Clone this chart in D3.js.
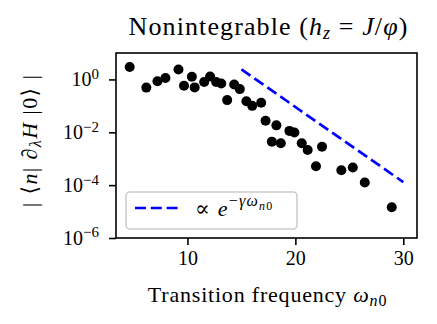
<!DOCTYPE html>
<html>
<head>
<meta charset="utf-8">
<script src="https://cdn.jsdelivr.net/npm/d3@7"></script>
<style>
  body { margin: 0; background: #fff; }
  svg text { font-family: "Liberation Serif", "DejaVu Serif", serif; fill: #000; }
</style>
</head>
<body>
<div id="chart"></div>
<script>
// transition frequency of each eigenstate pair
var omega = [4.65, 6.19, 7.22, 7.96, 9.17, 9.68, 10.41, 10.67, 11.55, 12.10, 12.66, 13.13,
             13.68, 14.33, 14.85, 15.46, 16.0, 16.83, 17.24, 18.24, 17.82, 18.65, 19.45, 19.91,
             20.59, 21.14, 22.47, 21.91, 24.26, 25.32, 26.43, 28.93];
// |<n| dH |0>| matrix elements
var element = [2.95, 0.49, 0.85, 1.14, 2.37, 0.58, 1.27, 0.50, 0.80, 1.30, 0.80, 0.70,
               0.165, 0.64, 0.43, 0.149, 0.100, 0.132, 0.0272, 0.0183, 0.00442, 0.00384, 0.0113, 0.00975,
               0.00384, 0.00213, 0.00285, 0.000522, 0.000367, 0.000466, 0.000125, 1.46e-5];
// exponential envelope endpoints (straight on a log axis)
var fitX = [15, 30];
var fitY = [2.4, 1.3e-4];

var xTicks = [10, 20, 30];
var yTicks = [1e0, 1e-2, 1e-4, 1e-6];

var W = 437, H = 324;
var pLeft = 116, pRight = 417, pTop = 53, pBottom = 238;

var svg = d3.select("#chart").append("svg")
  .attr("width", W)
  .attr("height", H);

var x = d3.scaleLinear().domain([3.38, 31.27]).range([pLeft, pRight]);
var y = d3.scaleLog().domain([1e-6, 1e1]).range([pBottom, pTop]);

// points
svg.selectAll("circle.pt")
  .data(omega.map(function(d, i) { return [d, element[i]]; }))
  .enter().append("circle")
  .attr("class", "pt")
  .attr("cx", function(d) { return x(d[0]); })
  .attr("cy", function(d) { return y(d[1]); })
  .attr("r", 5)
  .style("fill", "#000");

// fit line
svg.append("path")
  .datum(fitX.map(function(d, i) { return [d, fitY[i]]; }))
  .attr("d", d3.line().x(function(d) { return x(d[0]); }).y(function(d) { return y(d[1]); }))
  .style("fill", "none")
  .style("stroke", "#0000ff")
  .style("stroke-width", 2.7)
  .style("stroke-dasharray", "11,4.8");

// axes
var xAxis = svg.append("g")
  .attr("transform", "translate(0," + pBottom + ")")
  .call(d3.axisBottom(x).tickValues(xTicks).tickSize(7).tickPadding(6).tickSizeOuter(0));
xAxis.select(".domain").remove();
xAxis.selectAll("line").style("stroke-width", 1.6);
xAxis.selectAll("text").style("font-size", "20px")
  .style("font-family", "Liberation Serif, serif");

var yAxis = svg.append("g")
  .attr("transform", "translate(" + pLeft + ",0)")
  .call(d3.axisLeft(y).tickValues(yTicks).tickSize(7).tickPadding(10).tickSizeOuter(0));
yAxis.select(".domain").remove();
yAxis.selectAll("line").style("stroke-width", 1.6);
yAxis.selectAll("text")
  .style("font-size", "20px")
  .style("font-family", "Liberation Serif, serif")
  .each(function(d) {
    var t = d3.select(this);
    var e = Math.round(Math.log10(d));
    t.text(null);
    t.append("tspan").text("10");
    t.append("tspan").attr("dy", "-0.5em").style("font-size", "15px")
      .text(e < 0 ? "\u2212" + (-e) : "" + e);
  });

// frame
svg.append("rect")
  .attr("x", pLeft).attr("y", pTop)
  .attr("width", pRight - pLeft).attr("height", pBottom - pTop)
  .style("fill", "none").style("stroke", "#000").style("stroke-width", 1.6);

// title
var title = svg.append("text")
  .attr("x", (pLeft + pRight) / 2 + 2).attr("y", 35)
  .attr("text-anchor", "middle")
  .style("font-size", "26px")
  .style("letter-spacing", "1.1px");
title.append("tspan").text("Nonintegrable (");
title.append("tspan").style("font-style", "italic").text("h");
title.append("tspan").attr("dy", 4).style("font-size", "18px").style("font-style", "italic").text("z");
title.append("tspan").attr("dy", -4).text(" = ");
title.append("tspan").style("font-style", "italic").text("J");
title.append("tspan").text("/");
title.append("tspan").style("font-style", "italic").text("\u03c6");
title.append("tspan").text(")");

// x label
var xl = svg.append("text")
  .attr("x", (pLeft + pRight) / 2 + 1).attr("y", 302)
  .attr("text-anchor", "middle")
  .style("font-size", "22px")
  .style("letter-spacing", "0.8px");
xl.append("tspan").text("Transition frequency ");
xl.append("tspan").style("font-style", "italic").text("\u03c9");
xl.append("tspan").attr("dy", 4).style("font-size", "16px").style("font-style", "italic").text("n");
xl.append("tspan").style("font-size", "16px").text("0");

// y label
var yl = svg.append("text")
  .attr("transform", "translate(37," + ((pTop + pBottom) / 2 - 5) + ") rotate(-90)")
  .attr("text-anchor", "middle")
  .style("font-size", "22px")
  .style("letter-spacing", "1.4px");
yl.append("tspan").text("| \u27e8");
yl.append("tspan").style("font-style", "italic").text("n");
yl.append("tspan").text("| \u2202");
yl.append("tspan").attr("dy", 4).style("font-size", "16px").style("font-style", "italic").text("\u03bb");
yl.append("tspan").attr("dy", -4).style("font-style", "italic").text("H");
yl.append("tspan").text(" |0\u27e9 |");

// legend
var lg = svg.append("g");
lg.append("rect")
  .attr("x", 126).attr("y", 192)
  .attr("width", 171).attr("height", 37)
  .attr("rx", 4)
  .style("fill", "#fff").style("fill-opacity", 0.8)
  .style("stroke", "#cccccc").style("stroke-width", 1.6);
lg.append("line")
  .attr("x1", 135).attr("x2", 178).attr("y1", 208).attr("y2", 208)
  .style("stroke", "#0000ff").style("stroke-width", 2.7)
  .style("stroke-dasharray", "11,4.8");
var lt = lg.append("text").attr("x", 195).attr("y", 216)
  .style("font-size", "22px").style("letter-spacing", "1.2px");
lt.append("tspan").text("\u221d  ");
lt.append("tspan").style("font-style", "italic").text("e");
lt.append("tspan").attr("dy", -10).style("font-size", "16px").text("\u2212");
lt.append("tspan").style("font-size", "16px").style("font-style", "italic").text("\u03b3\u03c9");
lt.append("tspan").attr("dy", 4).style("font-size", "12px").style("font-style", "italic").text("n");
lt.append("tspan").style("font-size", "12px").text("0");
</script>
</body>
</html>
